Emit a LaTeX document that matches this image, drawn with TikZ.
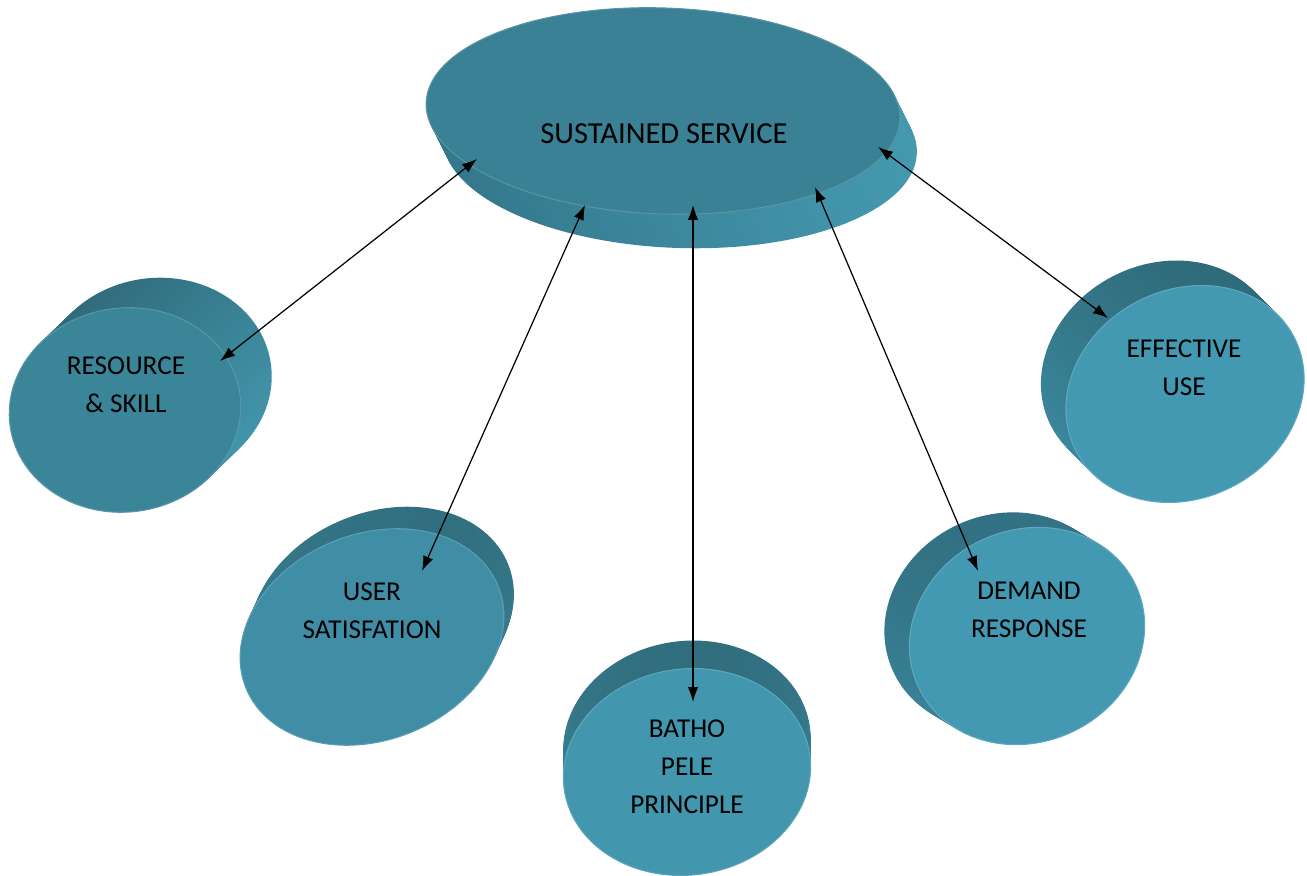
\documentclass[tikz,border=0pt]{standalone}
\usepackage{fontspec}
\setmainfont{Carlito}
\usetikzlibrary{arrows.meta,calc}

% face / side-dark / side-light colours of each disk
\definecolor{topF}{HTML}{3A8195}\definecolor{topD}{HTML}{34768A}\definecolor{topL}{HTML}{4499AF}
\definecolor{resF}{HTML}{3B8598}\definecolor{resD}{HTML}{2F6A7A}\definecolor{resL}{HTML}{4396AC}
\definecolor{usrF}{HTML}{3F8EA6}\definecolor{usrD}{HTML}{306E7E}\definecolor{usrL}{HTML}{3D8AA0}
\definecolor{batF}{HTML}{4296AE}\definecolor{batD}{HTML}{306D7D}\definecolor{batL}{HTML}{3E8DA3}
\definecolor{demF}{HTML}{4399B2}\definecolor{demD}{HTML}{316F80}\definecolor{demL}{HTML}{3D8BA1}
\definecolor{effF}{HTML}{4399B2}\definecolor{effD}{HTML}{2E6A79}\definecolor{effL}{HTML}{3D8BA1}

% extruded disk: #1 centre, #2 x radius, #3 y radius, #4 rotation,
% #5 depth vector, #6 side shading angle, #7 colour prefix
\newcommand\extdisk[7]{%
  \foreach \i [evaluate=\i as \f using \i/24] in {24,23,...,1}{%
    \path[top color=#7D, bottom color=#7L, shading angle=#6]
      ($(#1)+\f*(#5)$) ellipse[x radius=#2, y radius=#3, rotate=#4];
  }%
  \path[fill=#7F, draw=#7F!85!white, line width=0.6pt]
    (#1) ellipse[x radius=#2, y radius=#3, rotate=#4];
}

\tikzset{
  disktext/.style={font=\fontsize{15.5}{21.6}\selectfont, align=center, text=black, inner sep=0pt},
  link/.style={{Latex[length=8.5pt,width=6pt]}-{Latex[length=8.5pt,width=6pt]}, line width=0.7pt, black},
}

\begin{document}
\begin{tikzpicture}[x=0.02cm, y=0.02cm]
\useasboundingbox (0,0) rectangle (1307,875);

% disks
\extdisk{663,764}{237}{103}{-2}{17,-34}{90}{top}
\extdisk{125,465}{116}{102}{8}{31,30}{45}{res}
\extdisk{372,238}{136}{103}{22}{10,22}{-10}{usr}
\extdisk{687,103}{124}{103}{8}{0,28}{0}{bat}
\extdisk{1027,239}{120}{106}{25}{-25,15}{20}{dem}
\extdisk{1185,481}{123}{104}{28}{-25,25}{-20}{eff}

% labels
\node[disktext, font=\fontsize{17.4}{21.6}\selectfont] (sust) at (664,741) {SUSTAINED SERVICE};
\node[disktext] (res)  at (126,490) {RESOURCE\\\& SKILL};
\node[disktext] (usr)  at (372,264) {USER\\SATISFATION};
\node[disktext] (bat)  at (687,108) {BATHO\\PELE\\PRINCIPLE};
\node[disktext] (dem)  at (1029,265) {DEMAND\\RESPONSE};
\node[disktext] (eff)  at (1184,507) {EFFECTIVE\\USE};

% connector ends
\coordinate (sust-res) at (477,716);
\coordinate (sust-usr) at (585,670);
\coordinate (sust-bat) at (693,670);
\coordinate (sust-dem) at (815,688);
\coordinate (sust-eff) at (878,728);
\coordinate (res-end) at (220,514);
\coordinate (usr-end) at (422,304);
\coordinate (bat-end) at (693,173);
\coordinate (dem-end) at (978,304);
\coordinate (eff-end) at (1108,557);

% connectors
\draw[link] (res-end) -- (sust-res);
\draw[link] (usr-end) -- (sust-usr);
\draw[link] (bat-end) -- (sust-bat);
\draw[link] (dem-end) -- (sust-dem);
\draw[link] (eff-end) -- (sust-eff);
\end{tikzpicture}
\end{document}
